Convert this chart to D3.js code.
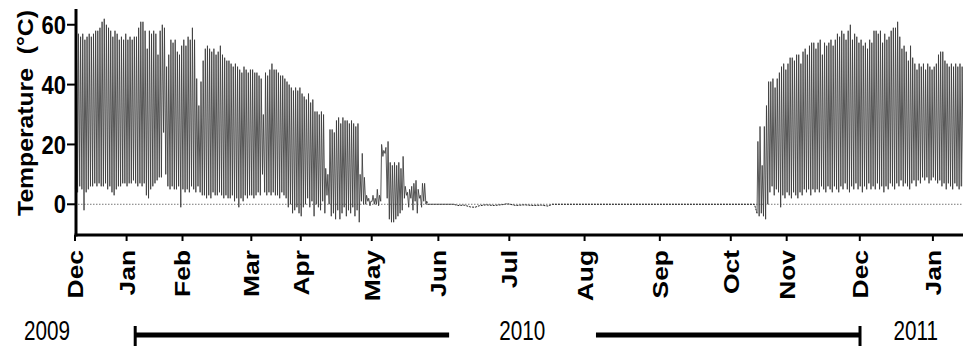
<!DOCTYPE html>
<html>
<head>
<meta charset="utf-8">
<script src="https://cdn.jsdelivr.net/npm/d3@7"></script>
<style>
  html, body { margin: 0; padding: 0; background: #fff; }
  svg { display: block; font-family: Arial, "Liberation Sans", Helvetica, sans-serif; }
</style>
</head>
<body>
<svg id="chart" width="963" height="348"></svg>
<script>
// month ticks (day index along the record, as placed in the figure)
const tickDays = [0, 24, 50, 82, 105, 138, 169, 202, 237, 272, 305, 331, 365, 399];
const tickLabels = ['Dec', 'Jan', 'Feb', 'Mar', 'Apr', 'May', 'Jun', 'Jul', 'Aug', 'Sep', 'Oct', 'Nov', 'Dec', 'Jan'];
const yTicks = [0, 20, 40, 60];

// first dry season: daily max / min (°C) from day 0
const season1Start = 0;
const season1Max = [
  58, 57, 56, 57, 55, 56, 57, 56, 57, 58,
  58, 59, 61, 62, 60, 59, 58, 56, 58, 57,
  55, 56, 55, 57, 55, 56, 55, 56, 56, 59,
  61, 61, 58, 52, 58, 57, 58, 57, 50, 58,
  60, 59, 46, 50, 55, 54, 55, 51, 50, 53,
  55, 53, 56, 55, 59, 55, 42, 33, 41, 48,
  52, 53, 52, 51, 52, 50, 51, 53, 50, 49,
  48, 48, 47, 46, 47, 46, 45, 44, 46, 45,
  44, 45, 45, 44, 44, 43, 42, 30, 44, 43,
  45, 47, 45, 45, 44, 43, 43, 42, 41, 40,
  39, 38, 39, 38, 39, 37, 36, 35, 37, 34,
  35, 31, 31, 30, 31, 30, 12, 10, 25, 25,
  24, 28, 29, 27, 29, 28, 28, 27, 28, 27,
  26, 27, 10, 17, 9, 3, 2, 1, 3, 2,
  5, 3, 20, 18, 19, 21, 14, 13, 14, 13,
  14, 12, 16, 6, 4, 5, 6, 7, 8, 5,
  3, 7, 7, 1
];
const season1Min = [
  5, 4, 6, 5, -2, 4, 5, 6, 6, 7,
  6, 7, 6, 6, 7, 5, 6, 4, 3, 5,
  6, 6, 7, 7, 6, 7, 7, 8, 7, 6,
  7, 6, 7, 3, 2, 5, 6, 7, 8, 9,
  9, 24, 10, 6, 5, 6, 5, 5, 6, -1,
  5, 4, 5, 4, 6, 5, 4, 6, 4, 3,
  3, 2, 3, 2, 4, 3, 3, 4, 3, 2,
  3, 2, 2, 3, 1, 2, -1, 2, 1, 3,
  2, 3, 3, 2, 3, 4, 3, 10, 4, 3,
  4, 3, 4, 3, 3, 2, 4, 3, 2, -1,
  0, -3, -2, -1, -3, -4, -1, 0, 2, -1,
  1, -4, 0, -1, -2, 1, -3, 3, 0, -4,
  -3, -5, -2, -5, -3, -1, -4, -2, -3, -1,
  -4, -2, -6, 1, 0, 0, 1, -0.5, 1, 0,
  0, -0.5, 1, 16, 17, 2, -5, -6, -6, -5,
  -4, -3, -2, 2, 3, -1, 2, -2, 1, -3,
  2, -1, 1, 0
];

// buried / wet period: [day, °C]
const flatDays = [164, 176, 178, 181, 184, 186, 188, 191, 195, 199, 201, 205, 209, 213, 217, 220, 222, 316];
const flatTemps = [0, 0, -0.4, -0.3, -0.9, -1, -0.5, -0.2, -0.4, -0.1, 0.2, -0.4, -0.2, -0.4, -0.3, -0.6, 0, 0];

// second dry season: daily max / min (°C) from day 317
const season2Start = 317;
const season2Max = [
  21, 26, 13, 26, 33, 41, 41, 42, 39, 42,
  44, 46, 47, 45, 47, 49, 49, 48, 50, 50,
  47, 51, 52, 50, 53, 54, 54, 52, 54, 55,
  50, 54, 53, 54, 55, 53, 55, 57, 56, 58,
  57, 55, 58, 60, 55, 57, 56, 54, 55, 53,
  54, 52, 55, 54, 58, 58, 57, 58, 54, 57,
  55, 56, 58, 59, 59, 61, 56, 52, 53, 51,
  48, 53, 49, 47, 45, 47, 46, 47, 45, 47,
  46, 45, 46, 47, 50, 51, 51, 48, 47, 46,
  47, 46, 47, 46, 47, 46, 47
];
const season2Min = [
  -3, -4, -3, -4, -5, 0, 4, 6, 3, 5,
  4, -1, 3, 2, 4, 3, 2, 4, 3, 2,
  4, 3, 5, 4, 5, 3, 5, 4, 5, 4,
  6, 5, 4, 6, 5, 4, 6, 5, 4, 6,
  5, 7, 5, 4, 6, 5, 7, 5, 6, 4,
  6, 5, 7, 5, 6, 5, 7, 5, 6, 4,
  6, 5, 7, 6, 5, 7, 6, 8, 6, 7,
  6, 5, 7, 8, 6, 8, 7, 9, 8, 9,
  7, 8, 9, 8, 7, 8, 6, 7, 5, 7,
  6, 5, 7, 6, 5, 6, 6
];

// year captions and period bars (day index)
const yearLabels = ['2009', '2010', '2011'];
const yearDays = [-13, 208, 391];
const periodStart = [28, 242.3];
const periodEnd = [174, 365.1];
const periodCap = ['start', 'end'];

const svg = d3.select('#chart');
const margin = { left: 76, top: 9, plotBottom: 235 };

const x = d3.scaleLinear().domain([0, 413]).range([75, 963]);
const y = d3.scaleLinear().domain([-10, 65]).range([234.2, 9.8]);

// zero reference line
svg.append('line')
  .attr('x1', x(0)).attr('x2', 963)
  .attr('y1', y(0)).attr('y2', y(0))
  .attr('stroke', '#777')
  .attr('stroke-width', 1)
  .attr('stroke-dasharray', '1.5,1.5');

// build daily zigzag from min / max
function dailyPoints(start, mins, maxs) {
  const pts = [];
  mins.forEach((m, i) => {
    pts.push([start + i + 0.2, m]);
    pts.push([start + i + 0.6, maxs[i]]);
  });
  return pts;
}

const line = d3.line()
  .x(d => x(d[0]))
  .y(d => y(d[1]));

const s1 = dailyPoints(season1Start, season1Min, season1Max);
const flat = flatDays.map((d, i) => [d, flatTemps[i]]);
const s2 = dailyPoints(season2Start, season2Min, season2Max);

svg.append('path')
  .datum(s1)
  .attr('d', line)
  .attr('fill', 'none')
  .attr('stroke', '#3a3a3a')
  .attr('stroke-width', 0.85);

svg.append('path')
  .datum([s1[s1.length - 1]].concat(flat, [s2[0]]))
  .attr('d', line)
  .attr('fill', 'none')
  .attr('stroke', '#222')
  .attr('stroke-width', 1)
  .attr('stroke-dasharray', '2,1');

svg.append('path')
  .datum(s2)
  .attr('d', line)
  .attr('fill', 'none')
  .attr('stroke', '#3a3a3a')
  .attr('stroke-width', 0.85);

// y axis
const yAxis = svg.append('g');
yAxis.append('line')
  .attr('x1', margin.left).attr('x2', margin.left)
  .attr('y1', margin.top).attr('y2', margin.plotBottom + 1.5)
  .attr('stroke', '#000').attr('stroke-width', 3);
yAxis.selectAll('.ytick')
  .data(yTicks)
  .enter()
  .append('line')
  .attr('x1', 67).attr('x2', margin.left)
  .attr('y1', d => y(d)).attr('y2', d => y(d))
  .attr('stroke', '#000').attr('stroke-width', 2);
yAxis.selectAll('.ylab')
  .data(yTicks)
  .enter()
  .append('text')
  .attr('transform', d => `translate(66, ${y(d)}) scale(1, 1.15)`)
  .attr('text-anchor', 'end')
  .attr('dy', '0.36em')
  .style('font-size', '22px')
  .style('font-weight', 'bold')
  .text(d => d);

svg.append('text')
  .attr('transform', 'translate(33, 113) rotate(-90) scale(1.15, 1)')
  .attr('text-anchor', 'middle')
  .style('font-size', '21.5px')
  .style('font-weight', 'bold')
  .style('white-space', 'pre')
  .text('Temperature  (°C)');

// x axis
const xAxis = svg.append('g');
xAxis.append('line')
  .attr('x1', margin.left - 1.5).attr('x2', 963)
  .attr('y1', margin.plotBottom).attr('y2', margin.plotBottom)
  .attr('stroke', '#000').attr('stroke-width', 3);
xAxis.selectAll('.xtick')
  .data(tickDays)
  .enter()
  .append('line')
  .attr('x1', d => x(d)).attr('x2', d => x(d))
  .attr('y1', margin.plotBottom).attr('y2', margin.plotBottom + 6)
  .attr('stroke', '#000').attr('stroke-width', 2);
xAxis.selectAll('.xlab')
  .data(tickDays)
  .enter()
  .append('text')
  .attr('transform', d => `translate(${x(d)}, 250) rotate(-90) scale(1.2, 1)`)
  .attr('text-anchor', 'end')
  .attr('dy', '0.36em')
  .style('font-size', '22px')
  .style('font-weight', 'bold')
  .text((d, i) => tickLabels[i]);

// years and period bars
svg.selectAll('.year')
  .data(yearLabels)
  .enter()
  .append('text')
  .attr('transform', (d, i) => `translate(${x(yearDays[i])}, 340) scale(0.9, 1.2)`)
  .attr('text-anchor', 'middle')
  .style('font-size', '23px')
  .text(d => d);

const bars = svg.selectAll('.period')
  .data(periodStart)
  .enter()
  .append('g');
bars.append('line')
  .attr('x1', d => x(d)).attr('x2', (d, i) => x(periodEnd[i]))
  .attr('y1', 335).attr('y2', 335)
  .attr('stroke', '#000').attr('stroke-width', 5);
bars.append('line')
  .attr('x1', (d, i) => x(periodCap[i] === 'start' ? d : periodEnd[i]))
  .attr('x2', (d, i) => x(periodCap[i] === 'start' ? d : periodEnd[i]))
  .attr('y1', 326).attr('y2', 346)
  .attr('stroke', '#000').attr('stroke-width', 3);
</script>
</body>
</html>
